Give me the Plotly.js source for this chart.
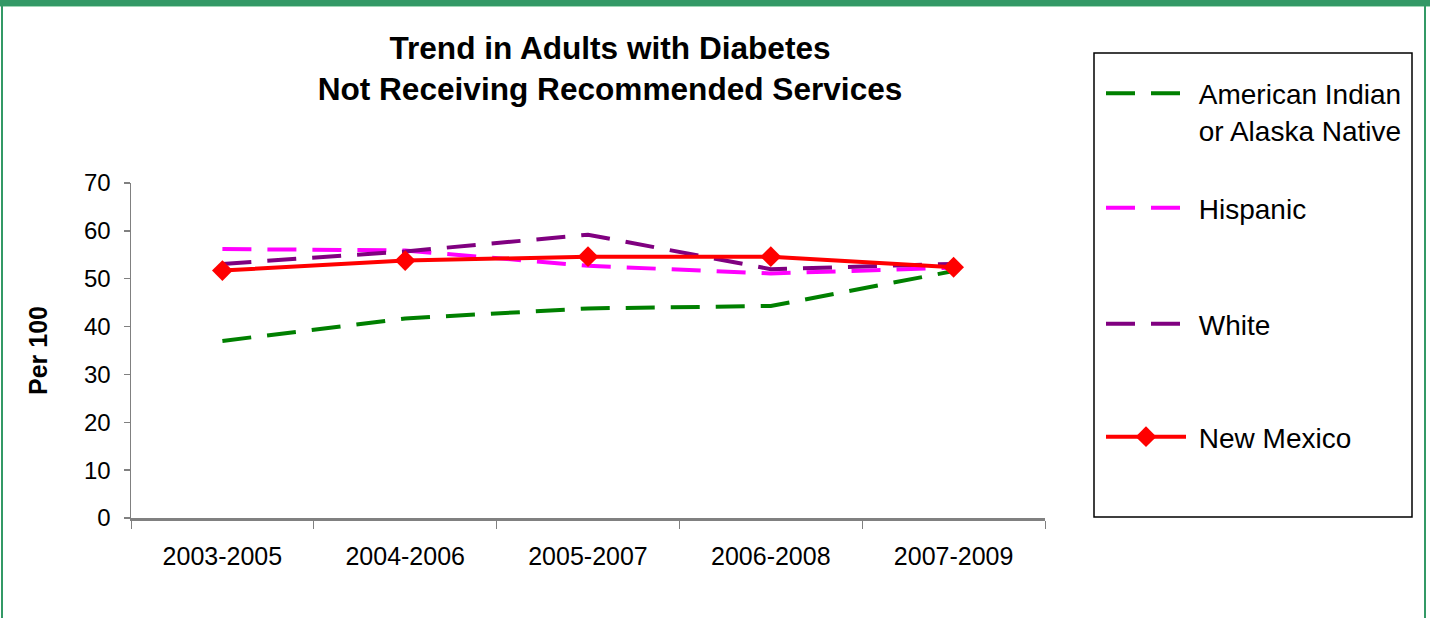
<!DOCTYPE html>
<html>
<head>
<meta charset="utf-8">
<script src="https://cdn.plot.ly/plotly-3.0.1.min.js"></script>
<style>
  html, body { margin: 0; padding: 0; background: #ffffff; }
  #wrap { position: relative; width: 1430px; height: 618px; overflow: hidden; }
  #chart { position: absolute; left: 0; top: 0; width: 1430px; height: 618px; }
  .frame { position: absolute; pointer-events: none; }
</style>
</head>
<body>
<div id="wrap">
  <div id="chart"></div>
  <div class="frame" style="left:0;top:0;width:1430px;height:6px;background:#339966;"></div>
  <div class="frame" style="left:0;top:6px;width:1430px;height:1px;background:#9fd8b6;"></div>
  <div class="frame" style="left:1px;top:6px;width:2px;height:612px;background:#339966;"></div>
  <div class="frame" style="left:1424px;top:6px;width:2px;height:612px;background:#339966;"></div>
</div>
<script>
// ---- data ----
const periods = ["2003-2005", "2004-2006", "2005-2007", "2006-2008", "2007-2009"];
const americanIndian = [37.0, 41.7, 43.8, 44.3, 51.6];
const hispanic = [56.2, 55.9, 52.7, 51.1, 52.3];
const white = [53.1, 55.7, 59.2, 52.0, 53.1];
const newMexico = [51.7, 53.8, 54.6, 54.6, 52.4];
const seriesNames = ["American Indian<br>or Alaska Native", "Hispanic", "White", "New Mexico"];
const yTicks = [0, 10, 20, 30, 40, 50, 60, 70];

// small leading gap between legend sample and text
const pad = s => s.split("<br>").map(t => "\u00a0" + t).join("<br>");

const dash = "29px,16px";
const traces = [
  { x: periods, y: americanIndian, name: pad(seriesNames[0]), type: "scatter", mode: "lines",
    line: { color: "#008000", width: 4, dash: dash }, legend: "legend" },
  { x: periods, y: hispanic, name: pad(seriesNames[1]), type: "scatter", mode: "lines",
    line: { color: "#FF00FF", width: 4, dash: dash }, legend: "legend2" },
  { x: periods, y: white, name: pad(seriesNames[2]), type: "scatter", mode: "lines",
    line: { color: "#800080", width: 4, dash: dash }, legend: "legend3" },
  { x: periods, y: newMexico, name: pad(seriesNames[3]), type: "scatter", mode: "lines+markers",
    line: { color: "#FF0000", width: 4 }, marker: { symbol: "diamond", size: 16, color: "#FF0000" },
    legend: "legend4" }
];

// plot area in pixels: x 131..1045, y 183..518
const L = 131, R = 1045, T = 183, B = 518;
const px2x = p => (p - L) / (R - L);
const px2y = p => (B - p) / (B - T);

const legendBase = {
  font: { family: "Liberation Sans, Arial, sans-serif", size: 28, color: "#000000" },
  bgcolor: "rgba(0,0,0,0)", borderwidth: 0, itemwidth: 80,
  xanchor: "left", yanchor: "middle", valign: "top", x: px2x(1101),
  itemclick: false, itemdoubleclick: false
};

const layout = {
  width: 1430, height: 618,
  margin: { l: L, r: 1430 - R, t: T, b: 618 - B },
  paper_bgcolor: "#ffffff", plot_bgcolor: "#ffffff",
  font: { family: "Liberation Sans, Arial, sans-serif", color: "#000000" },
  showlegend: true,
  title: {
    text: "<b>Trend in Adults with Diabetes<br>Not Receiving Recommended Services</b>",
    font: { size: 31.6, color: "#000000" },
    x: 610 / 1430, xanchor: "center", xref: "container",
    y: 1 - 59 / 618, yanchor: "top", yref: "container"
  },
  xaxis: {
    type: "category", range: [-0.5, 4.5], fixedrange: true,
    showline: true, linecolor: "#808080", linewidth: 2.5,
    ticks: "outside", tickson: "boundaries", ticklen: 8, tickcolor: "#808080", tickwidth: 1,
    tickfont: { size: 25, color: "#000000" }, ticklabelstandoff: 14,
    showgrid: false, zeroline: false
  },
  yaxis: {
    range: [0, 70], tickvals: yTicks, fixedrange: true,
    showline: true, linecolor: "#808080", linewidth: 1.5,
    ticks: "outside", ticklen: 6, tickcolor: "#808080", tickwidth: 1.5,
    tickfont: { size: 24, color: "#000000" }, ticklabelstandoff: 8,
    showgrid: false, zeroline: false,
    title: { text: "<b>Per 100</b>", font: { size: 25, color: "#000000" }, standoff: 29 }
  },
  legend: Object.assign({}, legendBase, { y: px2y(111.5) }),
  legend2: Object.assign({}, legendBase, { y: px2y(208) }),
  legend3: Object.assign({}, legendBase, { y: px2y(324) }),
  legend4: Object.assign({}, legendBase, { y: px2y(437) }),
  shapes: [
    { type: "rect", xref: "paper", yref: "paper",
      x0: px2x(1094), x1: px2x(1412), y0: px2y(517), y1: px2y(53),
      line: { color: "#000000", width: 1.5 }, fillcolor: "rgba(0,0,0,0)" }
  ]
};

Plotly.newPlot("chart", traces, layout, { displayModeBar: false, staticPlot: true });
</script>
</body>
</html>
